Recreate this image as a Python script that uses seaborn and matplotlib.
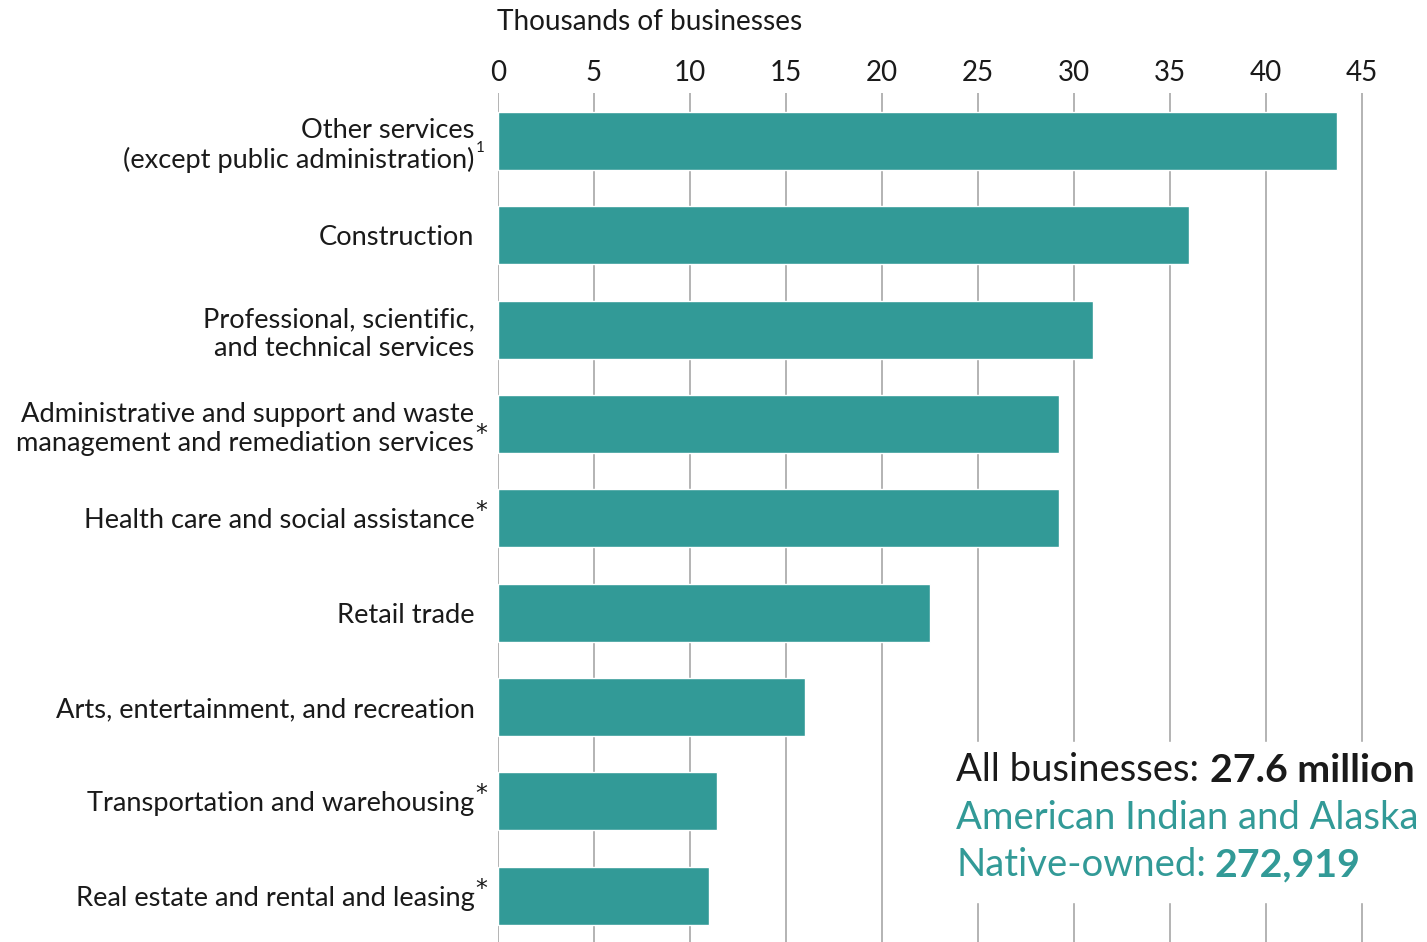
import matplotlib.pyplot as plt
import pandas as pd
import seaborn as sns

categories = [
    "Other services\n(except public administration)",
    "Construction",
    "Professional, scientific,\nand technical services",
    "Administrative and support and waste\nmanagement and remediation services",
    "Health care and social assistance",
    "Retail trade",
    "Arts, entertainment, and recreation",
    "Transportation and warehousing",
    "Real estate and rental and leasing",
]
footnotes = ["1", "", "", "*", "*", "", "", "*", "*"]
thousands = [43.7, 36.0, 31.0, 29.2, 29.2, 22.5, 16.0, 11.4, 11.0]
x_ticks = [0, 5, 10, 15, 20, 25, 30, 35, 40, 45]

teal = "#329a97"
ink = "#1a1a1a"
df = pd.DataFrame({"industry": categories, "value": thousands})

sns.set_style("white")
plt.rcParams["font.family"] = ["Lato", "DejaVu Sans"]

fig = plt.figure(figsize=(14.27, 9.42), dpi=100)
ax = fig.add_axes([498 / 1427, 0, 45.5 * 19.2 / 1427, (942 - 93) / 942])

sns.barplot(data=df, x="value", y="industry", color=teal, width=0.615,
            saturation=1, ax=ax, orient="h")
ax.set_xlim(0, 45.5)
ax.set_ylim(8.49, -0.51)
ax.set_xticks(x_ticks)
ax.xaxis.tick_top()
ax.set_axisbelow(True)
ax.grid(axis="x", color="#b3b3b3", linewidth=1.4)
ax.grid(axis="y", visible=False)
for s in ax.spines.values():
    s.set_visible(False)
ax.tick_params(axis="x", length=0, pad=5, labelsize=20, colors=ink)
ax.tick_params(axis="y", length=0, pad=17, labelsize=19.6, colors=ink)
for lab in ax.get_yticklabels():
    lab.set_linespacing(1.2)
ax.set_xlabel("")
ax.set_ylabel("")

# footnote markers next to the labels
for i, (cat, mark) in enumerate(zip(categories, footnotes)):
    if not mark:
        continue
    two_lines = "\n" in cat
    if mark == "1":
        dy = -5
    elif two_lines:
        dy = -7
    else:
        dy = 5
    ax.annotate(mark, xy=(0, i), xycoords=ax.get_yaxis_transform(),
                xytext=(-16, dy), textcoords="offset points",
                ha="left", va="center", fontsize=17 if mark == "*" else 11,
                color=ink, family="DejaVu Sans" if mark == "*" else None)

fig.text(497 / 1427, 1 - 22 / 942, "Thousands of businesses", fontsize=20.2,
         ha="left", va="center", color=ink)

# summary box
box_x = 956 / 1427
fig.patches.append(plt.Rectangle((948 / 1427, 1 - 902 / 942), 1 - 948 / 1427, 160 / 942,
                                 transform=fig.transFigure, color="white", zorder=5))
t1 = fig.text(box_x, 1 - 770 / 942, "All businesses:", fontsize=27.5,
              ha="left", va="center", color=ink, zorder=6)
fig.canvas.draw()
bb = t1.get_window_extent()
fig.text((bb.x1 + 11) / 1427, 1 - 770 / 942, "27.6 million", fontsize=28.3,
         fontweight="bold", ha="left", va="center", color=ink, zorder=6)
fig.text(box_x, 1 - 818 / 942, "American Indian and Alaska", fontsize=27.5,
         ha="left", va="center", color=teal, zorder=6)
t3 = fig.text(box_x, 1 - 865 / 942, "Native-owned:", fontsize=27.5,
              ha="left", va="center", color=teal, zorder=6)
fig.canvas.draw()
bb3 = t3.get_window_extent()
fig.text((bb3.x1 + 9) / 1427, 1 - 865 / 942, "272,919", fontsize=28.3,
         fontweight="bold", ha="left", va="center", color=teal, zorder=6)

fig.savefig("out.png", dpi=100)
